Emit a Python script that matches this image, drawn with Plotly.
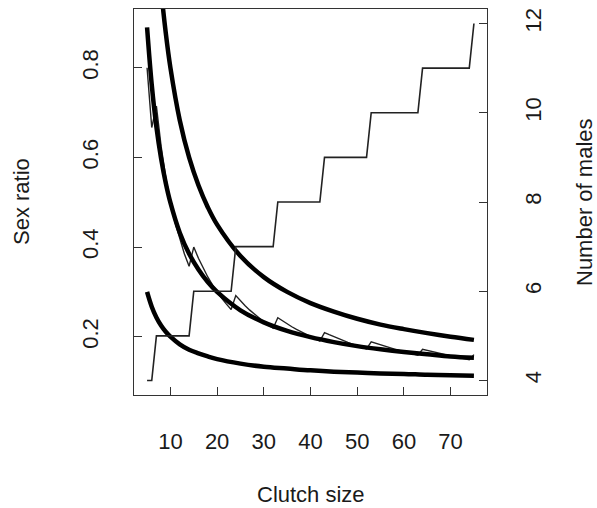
import plotly.graph_objects as go

# --- data ---
clutch = list(range(5, 76))
males = ([4, 4] + [5] * 8 + [6] * 9 + [7] * 9 + [8] * 10 + [9] * 10 +
         [10] * 11 + [11] * 11 + [12])
sex_ratio = [m / n for m, n in zip(males, clutch)]

curve_x = [5, 6, 7, 8, 9, 10, 12, 14, 16, 18, 20, 25, 30, 35, 40, 45, 50, 55, 60, 65, 70, 75]
curve_low = [0.300, 0.267, 0.243, 0.225, 0.211, 0.200, 0.183, 0.171, 0.163, 0.156, 0.150,
             0.140, 0.133, 0.129, 0.125, 0.122, 0.120, 0.118, 0.117, 0.115, 0.114, 0.113]
curve_mid = [0.890, 0.762, 0.668, 0.598, 0.543, 0.499, 0.432, 0.385, 0.350, 0.322, 0.300,
             0.259, 0.232, 0.213, 0.199, 0.188, 0.179, 0.172, 0.166, 0.161, 0.156, 0.153]
curve_top = [1.500, 1.267, 1.100, 0.975, 0.878, 0.800, 0.683, 0.600, 0.538, 0.489, 0.450,
             0.380, 0.333, 0.300, 0.275, 0.256, 0.240, 0.227, 0.217, 0.208, 0.200, 0.193]

x_ticks = [10, 20, 30, 40, 50, 60, 70]
y_ticks = [0.2, 0.4, 0.6, 0.8]
y2_ticks = [4, 6, 8, 10, 12]

FONT = "Liberation Sans, Arial, Helvetica, sans-serif"
INK = "#1a1a1a"

fig = go.Figure()

# step line: number of males (right axis)
fig.add_trace(go.Scatter(x=clutch, y=males, yaxis="y2", mode="lines",
                         line=dict(color="#222", width=1.6), hoverinfo="skip"))
# thin zigzag: realised sex ratio
fig.add_trace(go.Scatter(x=clutch, y=sex_ratio, mode="lines",
                         line=dict(color="#222", width=1.4), hoverinfo="skip"))
# thick curves
for cy in (curve_top, curve_mid, curve_low):
    fig.add_trace(go.Scatter(x=curve_x, y=cy, mode="lines",
                             line=dict(color="black", width=4.5, shape="spline", smoothing=1.0),
                             hoverinfo="skip"))

axis_common = dict(showgrid=False, zeroline=False, showline=True, linecolor="#333",
                   linewidth=1.2, ticks="inside", ticklen=8, tickwidth=1.2, tickcolor="#333",
                   tickfont=dict(family=FONT, size=22, color=INK))

fig.update_layout(
    width=597, height=508,
    margin=dict(l=134, r=110, t=9, b=113),
    paper_bgcolor="white", plot_bgcolor="white",
    showlegend=False,
    xaxis=dict(range=[2.2, 77.8], tickvals=x_ticks, mirror=True,
               ticklabelstandoff=26, **axis_common),
    yaxis=dict(range=[0.07, 0.931], tickvals=y_ticks, ticktext=["0.2", "0.4", "0.6", "0.8"],
               tickangle=-90, mirror=True, ticklabelstandoff=26, **axis_common),
    yaxis2=dict(range=[3.675, 12.325], tickvals=y2_ticks, overlaying="y", side="right",
                tickangle=-90, ticklabelstandoff=26, **axis_common),
    annotations=[
        dict(text="Clutch size", xref="paper", yref="paper", x=0.5, y=0, yshift=-99,
             xanchor="center", yanchor="middle", showarrow=False,
             font=dict(family=FONT, size=22, color=INK)),
        dict(text="Sex ratio", xref="paper", yref="paper", x=0, y=0.5, xshift=-113,
             xanchor="center", yanchor="middle", textangle=-90, showarrow=False,
             font=dict(family=FONT, size=22, color=INK)),
        dict(text="Number of males", xref="paper", yref="paper", x=1, y=0.5, xshift=97,
             xanchor="center", yanchor="middle", textangle=-90, showarrow=False,
             font=dict(family=FONT, size=22, color=INK)),
    ],
)

fig.write_html("out.html")
